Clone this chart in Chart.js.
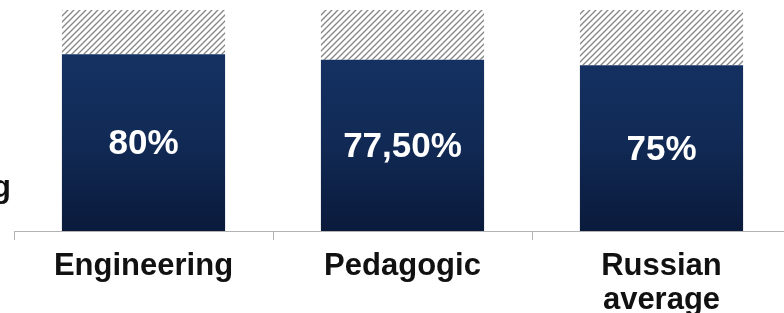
<!DOCTYPE html>
<html>
<head>
<meta charset="utf-8">
<script src="https://cdn.jsdelivr.net/npm/chart.js@4"></script>
<style>
  html, body { margin: 0; padding: 0; background: #fff; overflow: hidden; }
  #wrap { position: relative; width: 800px; height: 313px; }
</style>
</head>
<body>
<div id="wrap"><canvas id="chart"></canvas></div>
<script>
const categories = [['Engineering'], ['Pedagogic'], ['Russian', 'average']];
const shareValues = [80, 77.5, 75];
const restValues = [20, 22.5, 25];
const valueLabels = ['80%', '77,50%', '75%'];
const cutLabel = 'g';

// hatch pattern for the top part
function makeHatch() {
    const c = document.createElement('canvas');
    c.width = 6; c.height = 6;
    const g = c.getContext('2d');
    g.fillStyle = '#ffffff';
    g.fillRect(0, 0, 6, 6);
    g.strokeStyle = '#858585';
    g.lineWidth = 1.3;
    g.beginPath();
    g.moveTo(-1, 7); g.lineTo(7, -1);
    g.moveTo(-4, 4); g.lineTo(4, -4);
    g.moveTo(2, 10); g.lineTo(10, 2);
    g.stroke();
    return g.createPattern(c, 'repeat');
}

function navyGradient(ctx) {
    const area = ctx.chart.chartArea;
    if (!area) return '#12305e';
    const grad = ctx.chart.ctx.createLinearGradient(0, area.top, 0, area.bottom);
    grad.addColorStop(0, '#16356a');
    grad.addColorStop(0.6, '#112a55');
    grad.addColorStop(1, '#0a1a3b');
    return grad;
}

const valueLabelPlugin = {
    id: 'valueLabels',
    afterDatasetsDraw(chart) {
        const ctx = chart.ctx;
        const meta = chart.getDatasetMeta(0);
        ctx.save();
        ctx.fillStyle = '#ffffff';
        ctx.font = 'bold 35px "Liberation Sans", Arial, sans-serif';
        ctx.textAlign = 'center';
        ctx.textBaseline = 'middle';
        meta.data.forEach((bar, i) => {
            ctx.fillText(valueLabels[i], bar.x, (bar.y + bar.base) / 2 + 2);
        });
        // cut off word at the left edge
        ctx.fillStyle = '#111111';
        ctx.font = 'bold 31px "Liberation Sans", Arial, sans-serif';
        ctx.textAlign = 'right';
        ctx.textBaseline = 'alphabetic';
        ctx.fillText(cutLabel, 11, 197);
        ctx.restore();
    }
};

new Chart(document.getElementById('chart'), {
    type: 'bar',
    data: {
        labels: categories,
        datasets: [{
            label: 'Share',
            data: shareValues,
            backgroundColor: navyGradient,
            borderWidth: 0
        }, {
            label: 'Rest',
            data: restValues,
            backgroundColor: makeHatch(),
            borderWidth: 0
        }]
    },
    options: {
        responsive: true,
        maintainAspectRatio: false,
        animation: false,
        layout: { padding: { left: 14, right: 9, top: 10, bottom: 0 } },
        datasets: {
            bar: { categoryPercentage: 1, barPercentage: 0.63 }
        },
        plugins: {
            legend: { display: false },
            tooltip: { enabled: false }
        },
        scales: {
            x: {
                stacked: true,
                grid: {
                    offset: true,
                    drawOnChartArea: false,
                    tickLength: 9,
                    color: '#b3b3b3'
                },
                border: { color: '#b3b3b3', width: 1 },
                ticks: {
                    color: '#111111',
                    padding: 9,
                    font: { family: '"Liberation Sans", Arial, sans-serif', size: 31, weight: 'bold', lineHeight: 1.1 }
                },
                afterFit: (axis) => { axis.height = 82; }
            },
            y: {
                stacked: true,
                display: false,
                min: 0,
                max: 100
            }
        }
    },
    plugins: [valueLabelPlugin]
});
</script>
</body>
</html>
